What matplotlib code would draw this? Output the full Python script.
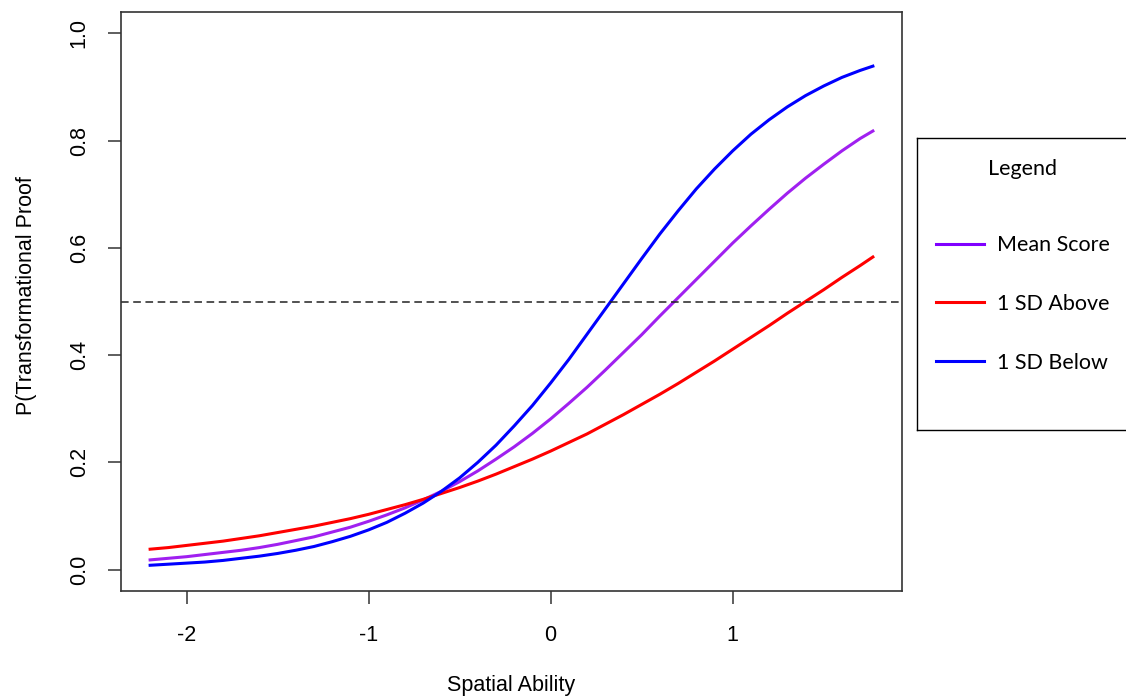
import numpy as np
import matplotlib
matplotlib.use("Agg")
import matplotlib.pyplot as plt
from matplotlib.lines import Line2D

# values
spatial = [-2.2, -2.1, -2.0, -1.9, -1.8, -1.7, -1.6, -1.5, -1.4, -1.3, -1.2, -1.1,
           -1.0, -0.9, -0.8, -0.7, -0.6, -0.5, -0.4, -0.3, -0.2, -0.1,
           0.0, 0.1, 0.2, 0.3, 0.4, 0.5, 0.6, 0.7, 0.8, 0.9,
           1.0, 1.1, 1.2, 1.3, 1.4, 1.5, 1.6, 1.7, 1.77]
p_mean = [0.018, 0.021, 0.024, 0.028, 0.032, 0.036, 0.041, 0.047, 0.054, 0.061, 0.070, 0.079,
          0.090, 0.102, 0.115, 0.130, 0.146, 0.164, 0.184, 0.206, 0.229, 0.254,
          0.281, 0.310, 0.340, 0.372, 0.405, 0.438, 0.473, 0.507, 0.541, 0.575,
          0.609, 0.641, 0.672, 0.702, 0.730, 0.756, 0.781, 0.804, 0.818]
p_above = [0.038, 0.041, 0.045, 0.049, 0.053, 0.058, 0.063, 0.069, 0.075, 0.081, 0.088, 0.095,
           0.103, 0.112, 0.121, 0.131, 0.142, 0.153, 0.165, 0.178, 0.192, 0.206,
           0.221, 0.237, 0.253, 0.271, 0.289, 0.308, 0.327, 0.347, 0.368, 0.389,
           0.411, 0.433, 0.455, 0.478, 0.500, 0.522, 0.545, 0.567, 0.583]
p_below = [0.008, 0.010, 0.012, 0.014, 0.017, 0.021, 0.025, 0.030, 0.036, 0.043, 0.052, 0.062,
           0.074, 0.088, 0.105, 0.124, 0.146, 0.171, 0.200, 0.232, 0.268, 0.306,
           0.348, 0.392, 0.439, 0.486, 0.533, 0.580, 0.626, 0.669, 0.710, 0.747,
           0.781, 0.812, 0.839, 0.863, 0.884, 0.902, 0.918, 0.931, 0.939]
cutoff = 0.5

legend_labels = ["Mean Score", "1 SD Above", "1 SD Below"]

plt.rcParams['font.family'] = ['Liberation Sans', 'DejaVu Sans']
plt.rcParams['axes.unicode_minus'] = False

fig = plt.figure(figsize=(11.26, 7.0), dpi=100)
ax = fig.add_axes([121 / 1126, 1 - 591 / 700, 781 / 1126, 579 / 700])

ax.plot(spatial, p_mean, color='#a020f0', lw=2.2)
ax.plot(spatial, p_above, color='#ff0000', lw=2.2)
ax.plot(spatial, p_below, color='#0000ff', lw=2.2)
ax.axhline(cutoff, color='#222222', lw=1.1, linestyle=(0, (5, 3)))

ax.set_xlim(-2.36, 1.93)
ax.set_ylim(-0.04, 1.04)
ax.set_xticks([-2, -1, 0, 1])
ax.set_yticks(np.arange(0, 1.01, 0.2))
ax.set_yticklabels(["%.1f" % v for v in np.arange(0, 1.01, 0.2)])
ax.tick_params(length=9.5, width=1.1, color='#333333', labelsize=15.5, pad=15)
ax.tick_params(axis='y', labelrotation=90, pad=13)
for lbl in ax.get_yticklabels():
    lbl.set_va('center')
for s in ax.spines.values():
    s.set_color('#333333')
    s.set_linewidth(1.2)

ax.set_xlabel("Spatial Ability", fontsize=15.5)
ax.set_ylabel("P(Transformational Proof", fontsize=15.5)
ax.xaxis.set_label_coords(0.5, -0.145)
ax.yaxis.set_label_coords(-0.107, 0.511)

# legend panel to the right of the plot
lax = fig.add_axes([917 / 1126, 1 - 430 / 700, 260 / 1126, 292 / 700])
lax.set_xticks([])
lax.set_yticks([])
for s in lax.spines.values():
    s.set_color('black')
    s.set_linewidth(1.0)
handles = [Line2D([], [], color=c, lw=2.2) for c in ['#8000ff', '#ff0000', '#0000ff']]
leg = lax.legend(handles, legend_labels, title="Legend\n", loc='upper left',
                 bbox_to_anchor=(0.0, 0.995), frameon=False,
                 prop={'family': 'Lato', 'size': 15.5},
                 title_fontproperties={'family': 'Lato', 'size': 15.5},
                 handlelength=2.2, handletextpad=0.6, labelspacing=1.8)
leg.get_title().set_linespacing(0.85)

fig.savefig("out.png", dpi=100)
